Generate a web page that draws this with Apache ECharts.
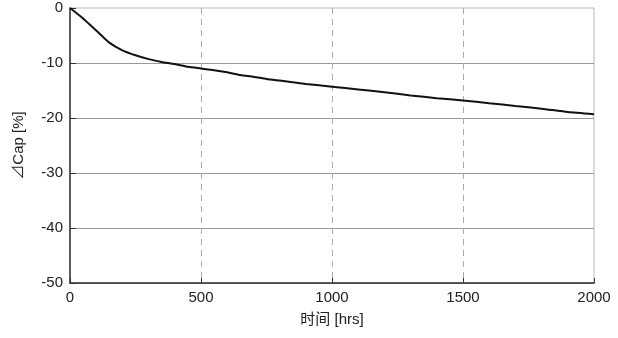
<!DOCTYPE html>
<html>
<head>
<meta charset="utf-8">
<script src="https://cdn.jsdelivr.net/npm/echarts@6/dist/echarts.min.js"></script>
<style>
  html, body { margin: 0; padding: 0; background: #fff; }
  #chart { width: 618px; height: 338px; }
</style>
</head>
<body>
<div id="chart"></div>
<script>
// 时间 (hrs) 与 容量变化 (%)
var hours = [0, 50, 100, 150, 200, 250, 300, 350, 400, 450, 500, 550, 600, 650, 700, 750, 800, 900, 1000,
  1100, 1200, 1300, 1400, 1500, 1600, 1700, 1800, 1900, 2000];
var capChange = [0, -1.9, -4.1, -6.3, -7.7, -8.6, -9.3, -9.8, -10.2, -10.7, -11.0, -11.3, -11.7, -12.2, -12.5, -12.9, -13.2, -13.8, -14.3,
  -14.8, -15.3, -15.9, -16.4, -16.8, -17.3, -17.8, -18.3, -18.9, -19.3];
var xTicks = [0, 500, 1000, 1500, 2000];
var yTicks = [0, -10, -20, -30, -40, -50];

var font = '"Liberation Sans", "Noto Sans CJK SC", sans-serif';
var myChart = echarts.init(document.getElementById('chart'));

var points = hours.map(function (h, i) { return [h, capChange[i]]; });

var option = {
  animation: false,
  grid: {
    left: 70, right: 24, top: 8, bottom: 55,
    show: true, borderColor: '#bbb', borderWidth: 1
  },
  xAxis: {
    type: 'value',
    min: xTicks[0], max: xTicks[xTicks.length - 1], interval: 500,
    name: '时间 [hrs]',
    nameLocation: 'middle',
    nameGap: 29,
    nameTextStyle: { color: '#222', fontSize: 15, fontFamily: font },
    axisLine: { onZero: false, lineStyle: { color: '#333', width: 1.5 } },
    axisTick: { inside: true, length: 5, lineStyle: { color: '#333' } },
    axisLabel: { color: '#222', fontSize: 15, fontFamily: font, margin: 7, formatter: function (v) { return String(v); } },
    splitLine: {
      show: true, showMinLine: false, showMaxLine: false,
      lineStyle: { color: '#aaa', type: [6, 5], width: 1 }
    }
  },
  yAxis: {
    type: 'value',
    min: yTicks[yTicks.length - 1], max: yTicks[0], interval: 10,
    name: '⊿Cap [%]',
    nameLocation: 'middle',
    nameGap: 44,
    nameRotate: 90,
    nameTextStyle: { color: '#222', fontSize: 15, fontFamily: font },
    axisLine: { show: true, onZero: false, lineStyle: { color: '#333', width: 1.5 } },
    axisTick: { show: true, inside: true, length: 6, lineStyle: { color: '#333' } },
    axisLabel: { color: '#222', fontSize: 15, fontFamily: font, margin: 7 },
    splitLine: { show: true, showMaxLine: false, lineStyle: { color: '#999', width: 1 } }
  },
  series: [
    {
      type: 'line',
      data: points,
      showSymbol: false,
      smooth: 0.2,
      lineStyle: { color: '#111', width: 2 }
    }
  ]
};

myChart.setOption(option);
</script>
</body>
</html>
